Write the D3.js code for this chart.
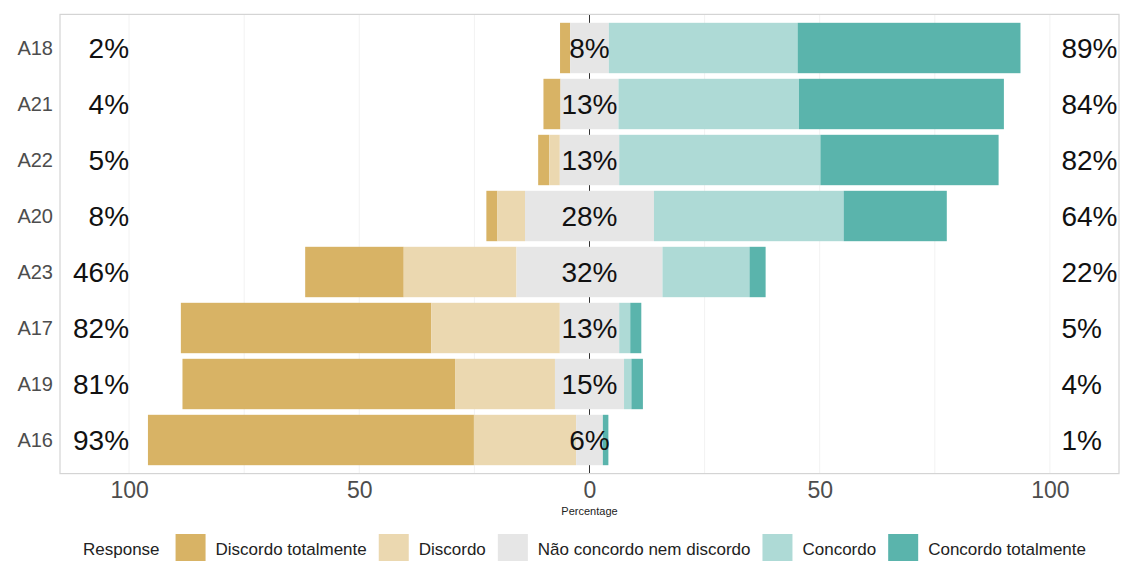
<!DOCTYPE html>
<html>
<head>
<meta charset="utf-8">
<script src="https://cdn.jsdelivr.net/npm/d3@7"></script>
<style>
  html, body { margin: 0; padding: 0; background: #fff; }
  svg { display: block; font-family: "Liberation Sans", Arial, sans-serif; }
</style>
</head>
<body>
<div id="chart"></div>
<script>
// items top → bottom
const items = ['A18', 'A21', 'A22', 'A20', 'A23', 'A17', 'A19', 'A16'];
const levels = ['Discordo totalmente', 'Discordo', 'Não concordo nem discordo', 'Concordo', 'Concordo totalmente'];
const levelColors = ['#D8B365', '#EBD8B0', '#E6E6E6', '#AEDAD6', '#5AB4AC'];

// percentages per level, same order as items
const discTot  = [2.2, 3.7, 2.4, 2.4, 21.4, 54.4, 59.2, 70.8];
const disc     = [0.0, 0.0, 2.3, 6.0, 24.5, 27.9, 21.7, 22.2];
const neutral  = [8.4, 12.6, 12.9, 28.0, 31.7, 12.9, 15.0, 5.8];
const conc     = [41.0, 39.2, 43.7, 41.2, 18.9, 2.4, 1.6, 0.0];
const concTot  = [48.4, 44.5, 38.7, 22.4, 3.5, 2.4, 2.5, 1.2];

// labels printed on the chart
const lowLabels  = ['2%', '4%', '5%', '8%', '46%', '82%', '81%', '93%'];
const midLabels  = ['8%', '13%', '13%', '28%', '32%', '13%', '15%', '6%'];
const highLabels = ['89%', '84%', '82%', '64%', '22%', '5%', '4%', '1%'];

const xTicks = [-100, -50, 0, 50, 100];
const gridTicks = [-100, -75, -50, -25, 0, 25, 50, 75, 100];

const W = 1124, H = 561;
const panel = { left: 60, right: 1119, top: 14.4, bottom: 473.6 };

const svg = d3.select('#chart').append('svg').attr('width', W).attr('height', H);

const x = d3.scaleLinear().domain([-115, 115]).range([panel.left, panel.right]);
const y = d3.scalePoint().domain(items).range([panel.top, panel.bottom]).padding(0.6);
const barH = y.step() * 0.9;

// gridlines
svg.append('g').selectAll('line').data(gridTicks).join('line')
  .attr('x1', d => x(d)).attr('x2', d => x(d))
  .attr('y1', panel.top).attr('y2', panel.bottom)
  .attr('stroke', '#f2f2f2').attr('stroke-width', 1);

// zero line (under the bars)
svg.append('line')
  .attr('x1', x(0)).attr('x2', x(0)).attr('y1', panel.top).attr('y2', panel.bottom)
  .attr('stroke', '#333').attr('stroke-width', 1);

// build segments: neutral centred on 0
const series = [discTot, disc, neutral, conc, concTot];
const segs = [];
items.forEach((it, i) => {
  let left = -neutral[i] / 2 - disc[i] - discTot[i];
  series.forEach((s, k) => {
    segs.push({ item: it, k, x0: left, x1: left + s[i] });
    left += s[i];
  });
});

svg.append('g').selectAll('rect').data(segs.filter(d => d.x1 > d.x0)).join('rect')
  .attr('x', d => x(d.x0)).attr('width', d => x(d.x1) - x(d.x0))
  .attr('y', d => y(d.item) - barH / 2).attr('height', barH)
  .attr('fill', d => levelColors[d.k]);

// panel border
svg.append('rect')
  .attr('x', panel.left).attr('y', panel.top)
  .attr('width', panel.right - panel.left).attr('height', panel.bottom - panel.top)
  .attr('fill', 'none').attr('stroke', '#d4d4d4').attr('stroke-width', 1.2);

// percentage labels
const lab = svg.append('g').attr('font-size', 28).attr('fill', '#111');
lab.selectAll('.low').data(items).join('text').attr('class', 'low')
  .attr('x', x(-100)).attr('y', d => y(d) + 10).attr('text-anchor', 'end')
  .text((d, i) => lowLabels[i]);
lab.selectAll('.mid').data(items).join('text').attr('class', 'mid')
  .attr('x', x(0)).attr('y', d => y(d) + 10).attr('text-anchor', 'middle')
  .text((d, i) => midLabels[i]);
lab.selectAll('.high').data(items).join('text').attr('class', 'high')
  .attr('x', x(102.5)).attr('y', d => y(d) + 10).attr('text-anchor', 'start')
  .text((d, i) => highLabels[i]);

// y axis labels
svg.append('g').selectAll('text').data(items).join('text')
  .attr('x', panel.left - 7).attr('y', d => y(d) + 7)
  .attr('text-anchor', 'end').attr('font-size', 20).attr('fill', '#4d4d4d')
  .text(d => d);

// x axis
const xAxis = svg.append('g').attr('transform', `translate(0,${panel.bottom})`)
  .call(d3.axisBottom(x).tickValues(xTicks).tickFormat(d => Math.abs(d)).tickSize(0).tickPadding(0));
xAxis.select('.domain').remove();
xAxis.selectAll('text').attr('font-size', 23).attr('fill', '#4d4d4d').attr('dy', null)
  .attr('y', 24).attr('font-family', '"Liberation Sans", Arial, sans-serif');

svg.append('text').attr('x', x(0)).attr('y', 515).attr('text-anchor', 'middle')
  .attr('font-size', 11).attr('fill', '#222').text('Percentage');

// legend
const leg = svg.append('g').attr('font-size', 17).attr('fill', '#222');
let lx = 83;
const ly = 549;
const rt = leg.append('text').attr('x', lx).attr('y', ly + 6).text('Response');
lx += rt.node().getComputedTextLength() + 16;
levels.forEach((lv, k) => {
  leg.append('rect').attr('x', lx).attr('y', ly - 15).attr('width', 30).attr('height', 29)
    .attr('fill', levelColors[k]);
  lx += 40;
  const t = leg.append('text').attr('x', lx).attr('y', ly + 6).text(lv);
  lx += t.node().getComputedTextLength() + 12;
});
</script>
</body>
</html>
